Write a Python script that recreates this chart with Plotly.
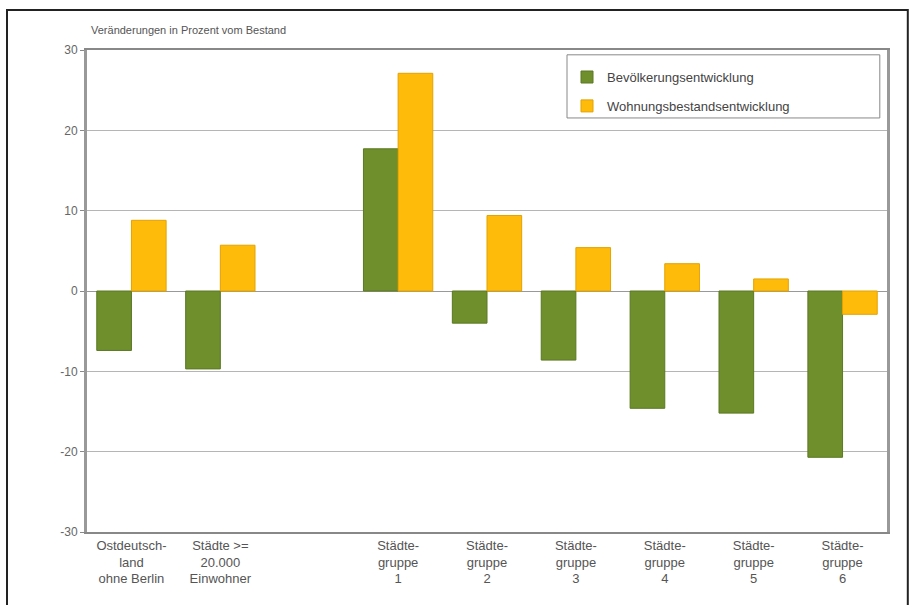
import plotly.graph_objects as go

categories = ["Ostdeutsch-<br>land<br>ohne Berlin", "Städte >=<br>20.000<br>Einwohner", " ",
              "Städte-<br>gruppe<br>1", "Städte-<br>gruppe<br>2", "Städte-<br>gruppe<br>3",
              "Städte-<br>gruppe<br>4", "Städte-<br>gruppe<br>5", "Städte-<br>gruppe<br>6"]
data_cats = [c for c in categories if c.strip()]
bevoelkerung = [-7.4, -9.7, 17.7, -4.0, -8.6, -14.6, -15.2, -20.7]
wohnungsbestand = [8.8, 5.7, 27.1, 9.4, 5.4, 3.4, 1.5, -2.9]
y_ticks = [-30, -20, -10, 0, 10, 20, 30]
y_tick_labels = ["-30", "-20", "-10", "0", "10", "20", "30"]

fig = go.Figure()
fig.add_trace(go.Bar(x=data_cats, y=bevoelkerung, name="Bevölkerungsentwicklung",
                     legendgroup="a",
                     marker=dict(color="#6e8f2c", line=dict(color="#5b7822", width=1))))
fig.add_trace(go.Bar(x=data_cats, y=wohnungsbestand, name="Wohnungsbestandsentwicklung",
                     legendgroup="b",
                     marker=dict(color="#ffbb0a", line=dict(color="#e3a200", width=1))))

fig.update_layout(
    width=917, height=605,
    margin=dict(l=87, r=30, t=50, b=73),
    paper_bgcolor="white", plot_bgcolor="white",
    barmode="group", bargap=0.22, bargroupgap=0,
    font=dict(family="Liberation Sans, Arial, sans-serif", size=12, color="#555555"),
    showlegend=True,
    legend=dict(x=0.6, y=0.975, xanchor="left", yanchor="top",
                borderwidth=0, bgcolor="rgba(0,0,0,0)",
                font=dict(size=13, color="#444444"),
                traceorder="grouped", tracegroupgap=9, itemwidth=30),
    xaxis=dict(type="category", categoryorder="array", categoryarray=categories,
               range=[-0.5, len(categories) - 0.5], showgrid=False,
               showline=True, linecolor="#888888", linewidth=2, mirror=True,
               ticks="", tickfont=dict(size=13, color="#555555")),
    yaxis=dict(range=[-30, 30], tickvals=y_ticks, ticktext=y_tick_labels,
               showgrid=True, gridcolor="#b5b5b5",
               gridwidth=1, zeroline=True, zerolinecolor="#999999", zerolinewidth=1,
               showline=True, linecolor="#999999", linewidth=3, mirror=True,
               ticks="outside", ticklen=4, tickcolor="#888888",
               tickfont=dict(size=12, color="#666666")),
)

fig.add_annotation(text="Veränderungen in Prozent vom Bestand", xref="paper", yref="paper",
                   x=0.0, y=1.0, xanchor="left", yanchor="bottom", yshift=12, xshift=2,
                   showarrow=False, font=dict(size=11, color="#555555"))

# legend frame
fig.add_shape(type="rect", xref="paper", yref="paper",
              x0=0.6, x1=0.991, y0=0.859, y1=0.99,
              line=dict(color="#888888", width=1), fillcolor="white", layer="below")

fig.add_shape(type="rect", xref="paper", yref="paper",
              x0=-0.1, x1=1.026, y0=-0.2, y1=1.083,
              line=dict(color="#222222", width=2), layer="below")

fig.write_html("out.html")
